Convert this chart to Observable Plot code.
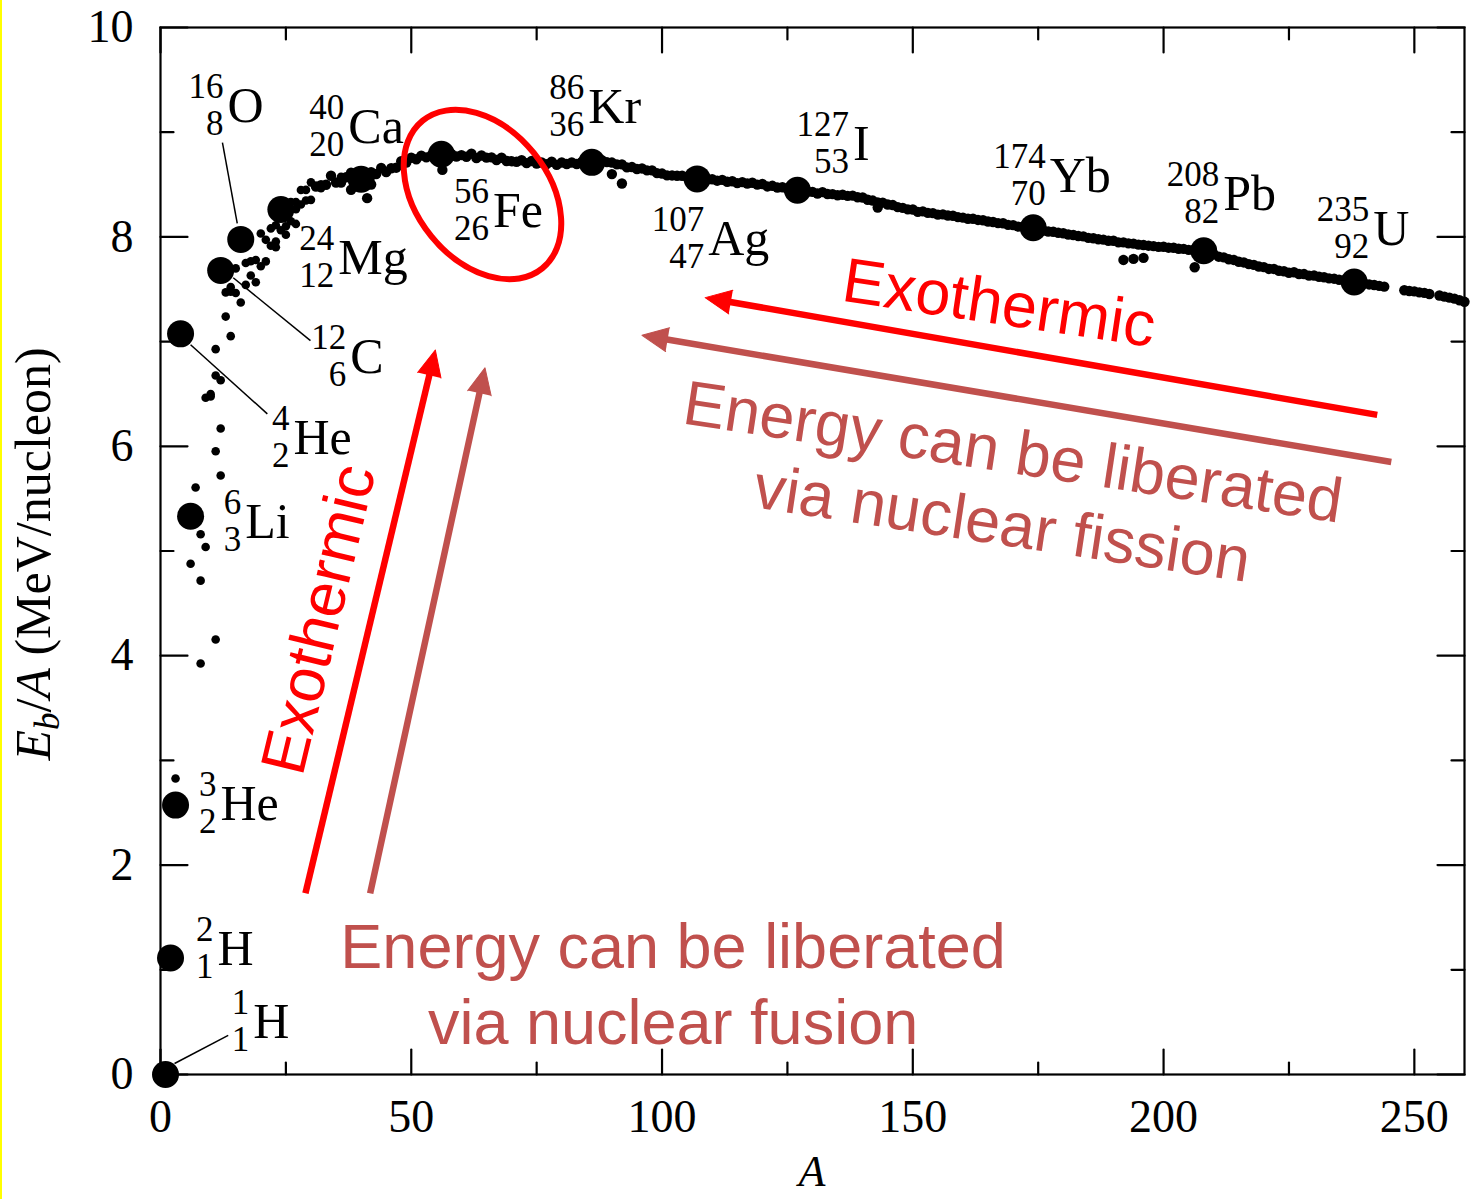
<!DOCTYPE html>
<html>
<head>
<meta charset="utf-8">
<script src="https://cdn.jsdelivr.net/npm/d3@7"></script>
<script src="https://cdn.jsdelivr.net/npm/@observablehq/plot@0.6"></script>
<style>
  html, body { margin: 0; padding: 0; background: #fff; }
  #chart svg { display: block; }
</style>
</head>
<body>
<div id="chart"></div>
<script>
// ---------- labelled nuclides (large dots) ----------
const nuclideSymbols = ["H","H","He","He","Li","C","O","Mg","Ca","Fe","Kr","Ag","I","Yb","Pb","U"];
const massNumbers    = ["1","2","3","4","6","12","16","24","40","56","86","107","127","174","208","235"];
const protonNumbers  = ["1","1","2","2","3","6","8","12","20","26","36","47","53","70","82","92"];
const bigA = [1, 2, 3, 4, 6, 12, 16, 24, 40, 56, 86, 107, 127, 174, 208, 238];
const bigE = [0, 1.112, 2.573, 7.074, 5.332, 7.680, 7.976, 8.261, 8.551, 8.790, 8.712, 8.554, 8.445, 8.087, 7.868, 7.570];

// label anchor (left edge of element symbol, baseline) in data units
const labelA = [18.5, 11.35, 11.95, 26.5, 16.9, 37.85, 13.35, 35.45, 37.45, 66.3, 85.3, 109.2, 138.1, 177.3, 211.9, 241.8];
const labelE = [0.344, 1.042, 2.427, 5.925, 5.122, 6.699, 9.097, 7.645, 8.896, 8.094, 9.087, 7.826, 8.734, 8.428, 8.256, 7.922];

// leader lines for a few labels (data units)
const leaderA1 = [15.3, 29.9, 21.3, 13.5];
const leaderE1 = [8.13, 7.01, 6.31, 0.373];
const leaderA2 = [12.35, 14.5, 6.0, 2.8];
const leaderE2 = [8.90, 7.61, 6.97, 0.105];

// ---------- light nuclides (small dots) ----------
const lightA = [3, 6, 7, 7, 8, 8, 8, 9, 9, 10, 10, 11, 11, 11, 11, 12, 12, 12, 13, 13,
  14, 14, 14, 15, 15, 16, 17, 17, 18, 18, 19, 19, 20, 20, 21, 21, 22, 22, 23, 23, 23,
  24, 25, 25, 25, 26, 26, 27, 27, 27, 28, 28, 29, 29, 30, 30, 32, 36];
const lightE = [2.827, 4.878, 5.606, 5.371, 5.160, 4.717, 3.925, 6.463, 5.038, 6.475, 6.498,
  6.928, 6.676, 5.953, 4.155, 6.631, 6.170, 5.721, 7.470, 7.239,
  7.476, 7.520, 7.052, 7.699, 7.464, 7.374, 7.751, 7.542, 7.767, 7.632, 7.779, 7.567,
  8.032, 7.720, 7.972, 7.766, 8.081, 7.916, 8.111, 7.955, 7.901,
  8.063, 8.224, 8.101, 8.021, 8.334, 8.150, 8.332, 8.264, 8.124, 8.448, 8.310,
  8.449, 8.348, 8.521, 8.354, 8.464, 8.575];

// ---------- main band (small dots) ----------
const bandA = [
  31, 32, 33, 34, 35, 36, 37, 38, 39, 40,
  41, 42, 43, 44, 45, 46, 47, 48, 49, 50,
  51, 52, 53, 54, 55, 56, 57, 58, 59, 60,
  61, 62, 63, 64, 65, 66, 67, 68, 69, 70,
  71, 72, 73, 74, 75, 76, 77, 78, 79, 80,
  81, 82, 83, 84, 85, 86, 87, 88, 89, 90,
  91, 92, 93, 94, 95, 96, 97, 98, 99, 100,
  101, 102, 103, 104, 105, 106, 107, 108, 109, 110,
  111, 112, 113, 114, 115, 116, 117, 118, 119, 120,
  121, 122, 123, 124, 125, 126, 127, 128, 129, 130,
  131, 132, 133, 134, 135, 136, 137, 138, 139, 140,
  141, 142, 143, 144, 145, 146, 147, 148, 149, 150,
  151, 152, 153, 154, 155, 156, 157, 158, 159, 160,
  161, 162, 163, 164, 165, 166, 167, 168, 169, 170,
  171, 172, 173, 174, 175, 176, 177, 178, 179, 180,
  181, 182, 183, 184, 185, 186, 187, 188, 189, 190,
  191, 192, 193, 194, 195, 196, 197, 198, 199, 200,
  201, 202, 203, 204, 205, 206, 207, 208, 209, 210,
  211, 212, 213, 214, 215, 216, 217, 218, 219, 220,
  221, 222, 223, 224, 225, 226, 227, 228, 229, 230,
  231, 232, 233, 234, 235, 236, 237, 238, 239, 240,
  241, 242, 243, 244,
  248, 249, 250, 251, 252, 253,
  255, 256, 257, 258, 259, 260];
const bandE = [
  8.481, 8.493, 8.498, 8.584, 8.520, 8.520, 8.570, 8.614, 8.557, 8.595,
  8.576, 8.617, 8.601, 8.658, 8.619, 8.656, 8.661, 8.723, 8.711, 8.756,
  8.742, 8.776, 8.760, 8.778, 8.765, 8.790, 8.770, 8.792, 8.768, 8.781,
  8.765, 8.795, 8.752, 8.777, 8.757, 8.760, 8.734, 8.756, 8.725, 8.722,
  8.718, 8.732, 8.705, 8.725, 8.701, 8.711, 8.695, 8.718, 8.688, 8.711,
  8.696, 8.711, 8.696, 8.717, 8.697, 8.712, 8.705, 8.733, 8.714, 8.710,
  8.693, 8.693, 8.664, 8.667, 8.649, 8.654, 8.635, 8.635, 8.609, 8.605,
  8.588, 8.587, 8.584, 8.584, 8.571, 8.560, 8.554, 8.542, 8.548, 8.551,
  8.537, 8.545, 8.527, 8.532, 8.514, 8.523, 8.510, 8.517, 8.499, 8.505,
  8.482, 8.488, 8.472, 8.474, 8.458, 8.463, 8.445, 8.443, 8.431, 8.430,
  8.414, 8.428, 8.410, 8.409, 8.398, 8.403, 8.392, 8.394, 8.378, 8.376,
  8.355, 8.347, 8.330, 8.327, 8.309, 8.304, 8.284, 8.277, 8.263, 8.262,
  8.239, 8.244, 8.229, 8.227, 8.213, 8.215, 8.204, 8.202, 8.189, 8.184,
  8.173, 8.173, 8.162, 8.159, 8.147, 8.142, 8.132, 8.130, 8.115, 8.112,
  8.098, 8.097, 8.087, 8.087, 8.069, 8.061, 8.052, 8.049, 8.039, 8.035,
  8.023, 8.018, 8.008, 8.005, 7.991, 7.987, 7.978, 7.974, 7.963, 7.963,
  7.948, 7.948, 7.938, 7.936, 7.926, 7.923, 7.916, 7.912, 7.905, 7.906,
  7.897, 7.896, 7.887, 7.886, 7.876, 7.875, 7.870, 7.868, 7.848, 7.834,
  7.811, 7.804, 7.786, 7.780, 7.763, 7.756, 7.740, 7.733, 7.717, 7.711,
  7.694, 7.694, 7.676, 7.672, 7.658, 7.662, 7.646, 7.645, 7.630, 7.631,
  7.619, 7.615, 7.604, 7.601, 7.591, 7.586, 7.576, 7.570, 7.560, 7.556,
  7.546, 7.541, 7.532, 7.525,
  7.490, 7.483, 7.480, 7.470, 7.465, 7.455,
  7.440, 7.430, 7.420, 7.410, 7.395, 7.380];

// stray points off the band
const strayA = [38, 41.2, 42, 56.2, 90, 92, 143, 192, 194, 196, 206.2];
const strayE = [8.45, 8.37, 8.50, 8.64, 8.60, 8.51, 8.28, 7.78, 7.79, 7.80, 7.71];

// ---------- axes ----------
const xMajor = [0, 50, 100, 150, 200, 250];
const xMinor = [25, 75, 125, 175, 225];
const yMajor = [0, 2, 4, 6, 8, 10];
const yMinor = [1, 3, 5, 7, 9];

// ---------- annotation arrows (tail -> tip, data units) ----------
const arrowTailA = [28.9, 41.8, 242.6, 245.4];
const arrowTailE = [1.73, 1.73, 6.30, 5.85];
const arrowTipA  = [54.8, 64.7, 108.6, 96.0];
const arrowTipE  = [6.92, 6.75, 7.42, 7.06];
const arrowColor = ["#ff0000", "#c0504d", "#ff0000", "#c0504d"];

const RED = "#ff0000", BROWN = "#c0504d";
const serif = "'Liberation Serif', 'Times New Roman', Times, serif";
const sans = "'Liberation Sans', Arial, Helvetica, sans-serif";

// ---------- tables ----------
const bigDots = bigA.map((a, i) => ({a, e: bigE[i]}));
const smallDotsLight = lightA.map((a, i) => ({a, e: lightE[i]}));
const smallDotsBand = bandA.map((a, i) => ({a, e: bandE[i]}))
  .concat(strayA.map((a, i) => ({a, e: strayE[i]})));
const labels = nuclideSymbols.map((s, i) => ({s, m: massNumbers[i], z: protonNumbers[i], a: labelA[i], e: labelE[i]}));
const leaders = leaderA1.map((a, i) => ({a1: a, e1: leaderE1[i], a2: leaderA2[i], e2: leaderE2[i]}));
const arrows = arrowTailA.map((a, i) => ({a1: a, e1: arrowTailE[i], a2: arrowTipA[i], e2: arrowTipE[i], color: arrowColor[i]}));

const base = {
  width: 1470, height: 1199,
  marginLeft: 160, marginRight: 6, marginTop: 27, marginBottom: 125,
  x: {domain: [0, 260]},
  y: {domain: [0, 10]},
  style: {fontFamily: serif, fontSize: "46px", background: "#fff", overflow: "visible"}
};

// probe render to get the scales for arrow-head orientation
const probe = Plot.plot({...base, marks: [Plot.dot(bigDots, {x: "a", y: "e"})]});
const sx = probe.scale("x"), sy = probe.scale("y");

const tickShape = {draw(ctx, l) { ctx.moveTo(0, 0); ctx.lineTo(0, -l); }};
const ticks = (vals, opts) => Plot.vector(vals, {anchor: "start", shape: tickShape, stroke: "black", strokeWidth: 2.2, ...opts});

const arrowMarks = [];
arrows.forEach((ar) => {
  const x1 = sx.apply(ar.a1), y1 = sy.apply(ar.e1), x2 = sx.apply(ar.a2), y2 = sy.apply(ar.e2);
  const len = Math.hypot(x2 - x1, y2 - y1);
  const ux = (x2 - x1) / len, uy = (y2 - y1) / len;
  const bx = sx.invert(x2 - ux * 18), by = sy.invert(y2 - uy * 18);
  const rot = Math.atan2(ux, -uy) * 180 / Math.PI;
  arrowMarks.push(Plot.link([ar], {x1: "a1", y1: "e1", x2: () => bx, y2: () => by, stroke: ar.color, strokeWidth: 6.5}));
  arrowMarks.push(Plot.vector([ar], {x: "a2", y: "e2", rotate: rot, length: 26, r: 12, shape: "spike", anchor: "end", fill: ar.color, stroke: ar.color, strokeWidth: 1}));
});

const fig = Plot.plot({
  ...base,
  marks: [
    Plot.frame({stroke: "black", strokeWidth: 2.2}),
    ticks(xMajor, {x: d => d, y: 0, rotate: 0, length: 25}),
    ticks(xMajor, {x: d => d, y: 10, rotate: 180, length: 25}),
    ticks(xMinor, {x: d => d, y: 0, rotate: 0, length: 12}),
    ticks(xMinor, {x: d => d, y: 10, rotate: 180, length: 12}),
    ticks(yMajor, {x: 0, y: d => d, rotate: 90, length: 27}),
    ticks(yMajor, {x: 260, y: d => d, rotate: 270, length: 27}),
    ticks(yMinor, {x: 0, y: d => d, rotate: 90, length: 13}),
    ticks(yMinor, {x: 260, y: d => d, rotate: 270, length: 13}),
    Plot.axisX(xMajor, {anchor: "bottom", tickSize: 0, tickPadding: 25, tickFormat: d => String(d), fontSize: 46, fontFamily: serif, label: null}),
    Plot.axisY(yMajor, {anchor: "left", tickSize: 0, tickPadding: 27, tickFormat: d => String(d), fontSize: 46, fontFamily: serif, label: null}),
    // leader lines
    Plot.link(leaders, {x1: "a1", y1: "e1", x2: "a2", y2: "e2", stroke: "black", strokeWidth: 1.5}),
    // dots
    Plot.dot(smallDotsLight, {x: "a", y: "e", r: 4.3, fill: "black"}),
    Plot.dot(smallDotsBand, {x: "a", y: "e", r: 5.2, fill: "black"}),
    Plot.dot(bigDots, {x: "a", y: "e", r: 13.5, fill: "black"}),
    // nuclide labels
    Plot.text(labels, {x: "a", y: "e", text: "s", textAnchor: "start", lineAnchor: "bottom", fontSize: 50, fontFamily: serif, fill: "black"}),
    Plot.text(labels, {x: "a", y: "e", text: "m", textAnchor: "end", lineAnchor: "bottom", dx: -4, dy: -24, fontSize: 35, fontFamily: serif, fill: "black"}),
    Plot.text(labels, {x: "a", y: "e", text: "z", textAnchor: "end", lineAnchor: "bottom", dx: -4, dy: 13, fontSize: 35, fontFamily: serif, fill: "black"}),
    // arrows
    ...arrowMarks,
    // annotation texts
    Plot.text(["Exothermic"], {x: 31.7, y: 4.346, text: d => d, rotate: -76.5, textAnchor: "middle", lineAnchor: "middle", fontSize: 63, fontFamily: sans, fill: RED}),
    Plot.text(["Exothermic"], {x: 166.6, y: 7.17, text: d => d, rotate: 8.5, textAnchor: "middle", lineAnchor: "bottom", fontSize: 63, fontFamily: sans, fill: RED}),
    Plot.text(["Energy can be liberated\nvia nuclear fission"], {x: 167.2, y: 5.062, text: d => d, rotate: 8.6, textAnchor: "middle", lineAnchor: "bottom", lineHeight: 1.15, fontSize: 63, fontFamily: sans, fill: BROWN}),
    Plot.text(["Energy can be liberated\nvia nuclear fusion"], {x: 102.2, y: 0.296, text: d => d, textAnchor: "middle", lineAnchor: "bottom", lineHeight: 1.2, fontSize: 63, fontFamily: sans, fill: BROWN})
  ]
});

document.getElementById("chart").appendChild(fig);

const svg = d3.select(fig.tagName.toLowerCase() === "svg" ? fig : fig.querySelector("svg"));
const fsx = fig.scale("x"), fsy = fig.scale("y");

// red ellipse around 56Fe
const ecx = fsx.apply(64.3), ecy = fsy.apply(8.40);
svg.append("ellipse")
  .attr("cx", ecx).attr("cy", ecy).attr("rx", 95).attr("ry", 66)
  .attr("transform", `rotate(51,${ecx},${ecy})`)
  .attr("fill", "none").attr("stroke", "#f00").attr("stroke-width", 6);

// y-axis title
const yl = svg.append("text")
  .attr("transform", "translate(50,554) rotate(-90)")
  .attr("text-anchor", "middle")
  .attr("font-family", serif).attr("font-size", 50).attr("fill", "black");
yl.append("tspan").attr("font-style", "italic").text("E");
yl.append("tspan").attr("font-style", "italic").attr("font-size", 35).attr("dy", 9).text("b");
yl.append("tspan").attr("dy", -9).text("/");
yl.append("tspan").attr("font-style", "italic").text("A");
yl.append("tspan").text(" (MeV/nucleon)");

// x-axis title
svg.append("text")
  .attr("x", (fsx.apply(0) + fsx.apply(260)) / 2).attr("y", 1186)
  .attr("text-anchor", "middle")
  .attr("font-family", serif).attr("font-size", 44).attr("font-style", "italic").attr("fill", "black")
  .text("A");

// thin yellow edge on the left
svg.append("line").attr("x1", 1).attr("x2", 1).attr("y1", 0).attr("y2", 1199)
  .attr("stroke", "#ffff00").attr("stroke-width", 2);
</script>
</body>
</html>
